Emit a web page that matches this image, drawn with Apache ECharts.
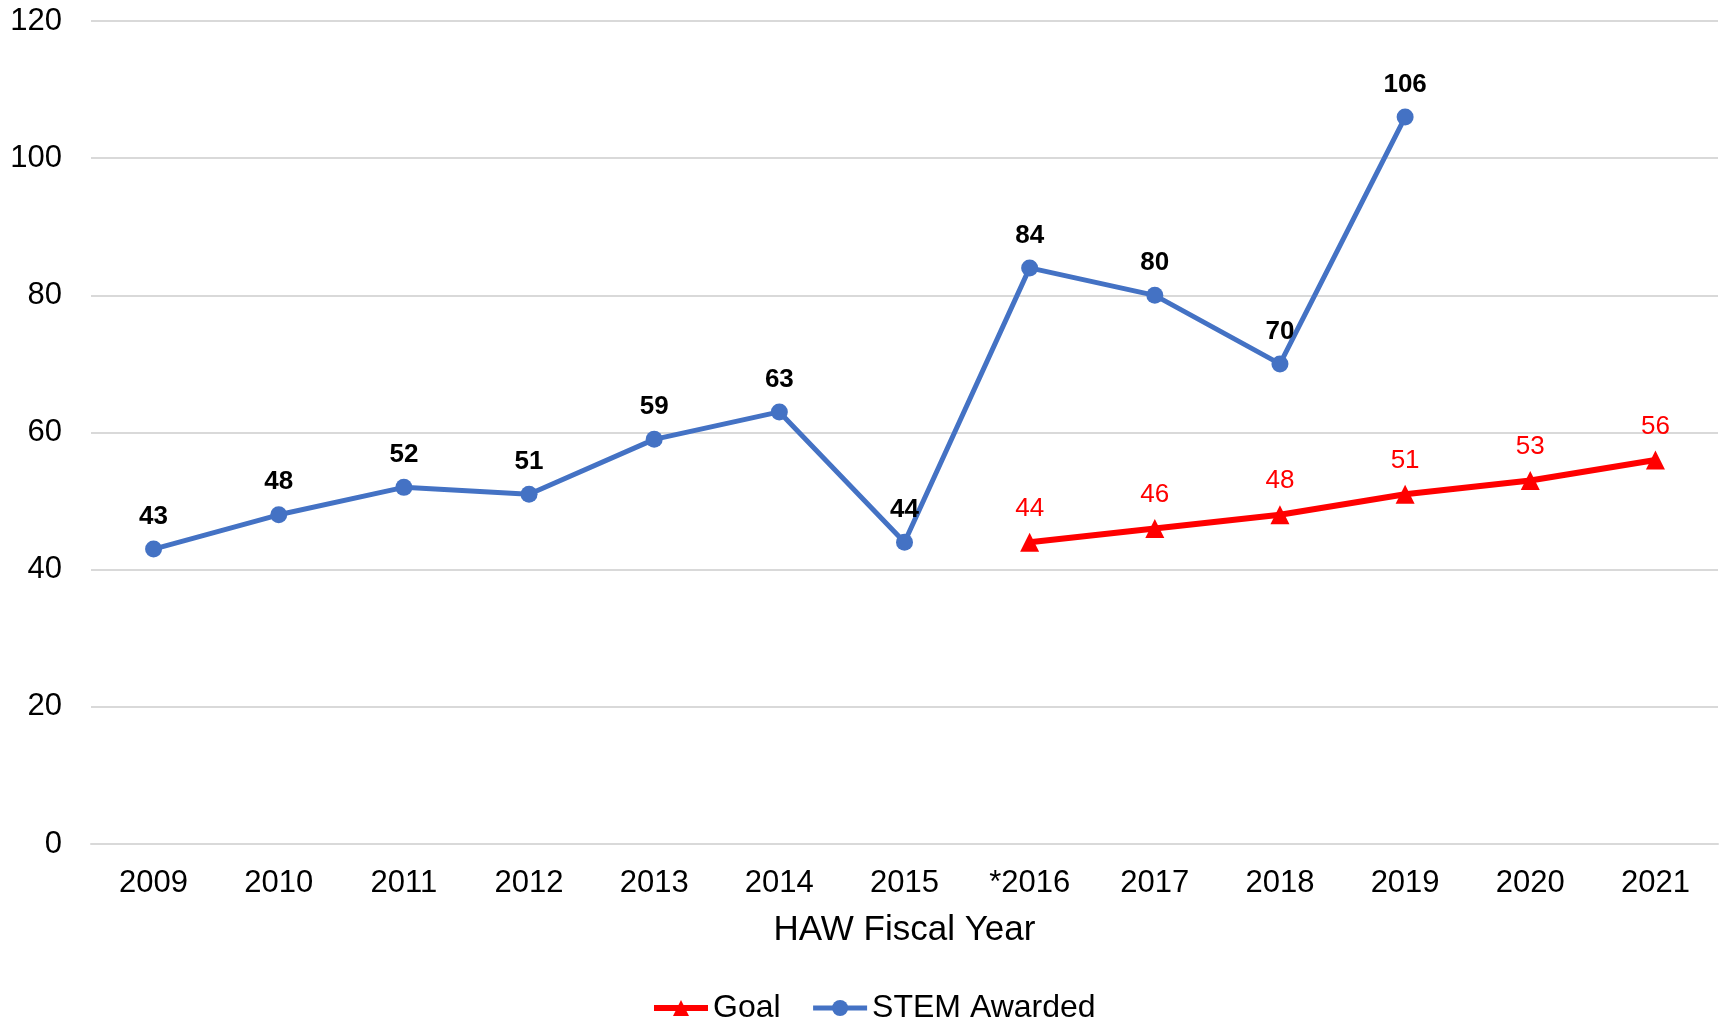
<!DOCTYPE html>
<html>
<head>
<meta charset="utf-8">
<script src="https://cdn.jsdelivr.net/npm/echarts@6/dist/echarts.min.js"></script>
<style>
  html, body { margin: 0; padding: 0; background: #fff; }
  #chart { width: 1719px; height: 1022px; }
</style>
</head>
<body>
<div id="chart"></div>
<script>
var years = ['2009', '2010', '2011', '2012', '2013', '2014', '2015', '*2016', '2017', '2018', '2019', '2020', '2021'];
var goal = [null, null, null, null, null, null, null, 44, 46, 48, 51, 53, 56];
var stemAwarded = [43, 48, 52, 51, 59, 63, 44, 84, 80, 70, 106, null, null];
var yTicks = { min: 0, max: 120, interval: 20 };

var font = 'Arial, "Liberation Sans", sans-serif';
var chart = echarts.init(document.getElementById('chart'));

chart.setOption({
    animation: false,
    textStyle: { fontFamily: font },
    grid: {
        left: 91,
        right: 1,
        top: 21,
        bottom: 178,
        containLabel: false
    },
    legend: {
        top: 987,
        left: 646,
        itemWidth: 54,
        itemHeight: 20,
        itemGap: 30,
        textStyle: { fontSize: 32, color: '#000', fontFamily: font },
        data: [
            { name: 'Goal', lineStyle: { width: 6, color: '#ff0000' }, itemStyle: { color: '#ff0000' } },
            { name: 'STEM Awarded', lineStyle: { width: 5, color: '#4472c4' }, itemStyle: { color: '#4472c4' } }
        ]
    },
    xAxis: {
        type: 'category',
        data: years,
        boundaryGap: true,
        name: 'HAW Fiscal Year',
        nameLocation: 'middle',
        nameGap: 69,
        nameTextStyle: { fontSize: 35, color: '#000', fontFamily: font },
        axisLine: { lineStyle: { color: '#d9d9d9', width: 2 } },
        axisTick: { show: false },
        axisLabel: { fontSize: 31, color: '#000', margin: 24, fontFamily: font }
    },
    yAxis: {
        type: 'value',
        min: yTicks.min,
        max: yTicks.max,
        interval: yTicks.interval,
        axisLine: { show: false },
        axisTick: { show: false },
        axisLabel: { fontSize: 31, color: '#000', margin: 29, fontFamily: font },
        splitLine: { lineStyle: { color: '#d9d9d9', width: 2 } }
    },
    series: [
        {
            name: 'Goal',
            type: 'line',
            data: goal,
            symbol: 'triangle',
            symbolSize: 19,
            connectNulls: false,
            itemStyle: { color: '#ff0000' },
            lineStyle: { color: '#ff0000', width: 6 },
            label: {
                show: true,
                position: 'top',
                distance: 11,
                color: '#ff0000',
                fontSize: 26,
                fontFamily: font
            }
        },
        {
            name: 'STEM Awarded',
            type: 'line',
            data: stemAwarded,
            symbol: 'circle',
            symbolSize: 17,
            connectNulls: false,
            itemStyle: { color: '#4472c4' },
            lineStyle: { color: '#4472c4', width: 5 },
            label: {
                show: true,
                position: 'top',
                distance: 11,
                color: '#000',
                fontWeight: 'bold',
                fontSize: 26,
                fontFamily: font
            }
        }
    ]
});
</script>
</body>
</html>
